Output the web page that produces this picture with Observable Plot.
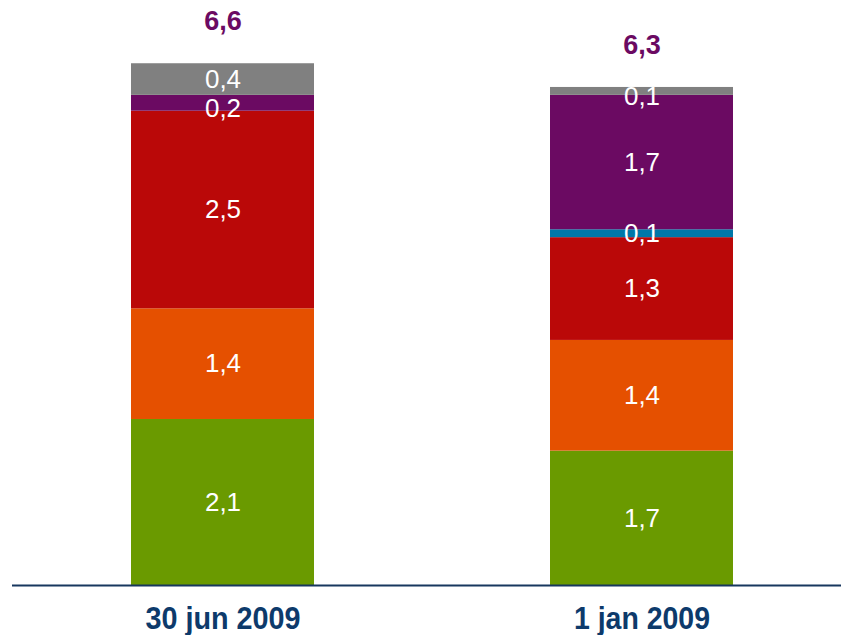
<!DOCTYPE html>
<html>
<head>
<meta charset="utf-8">
<script src="https://cdn.jsdelivr.net/npm/d3@7"></script>
<script src="https://cdn.jsdelivr.net/npm/@observablehq/plot@0.6"></script>
<style>
  html, body { margin: 0; padding: 0; background: #fff; }
  #chart svg { display: block; }
</style>
</head>
<body>
<div id="chart"></div>
<script>
// Categories (bars) and series (stack segments, bottom to top)
const dates = ["30 jun 2009", "1 jan 2009"];
const seriesNames = ["Groen", "Oranje", "Rood", "Blauw", "Paars", "Grijs"];
const seriesColors = ["#6A9A00", "#E55000", "#BA0808", "#0077A8", "#6B0A62", "#808080"];

// Values per series, one entry per date
const groen  = [2.1, 1.7];
const oranje = [1.4, 1.4];
const rood   = [2.5, 1.3];
const blauw  = [0.0, 0.1];
const paars  = [0.2, 1.7];
const grijs  = [0.4, 0.1];
const totals = [6.6, 6.3];

const seriesValues = [groen, oranje, rood, blauw, paars, grijs];
const data = [];
seriesNames.forEach((s, i) => {
  dates.forEach((d, j) => {
    data.push({date: d, series: s, value: seriesValues[i][j]});
  });
});
const totalData = dates.map((d, j) => ({date: d, total: totals[j]}));
const fmt = v => v.toFixed(1).replace(".", ",");

const stackOpts = {x: "date", y: "value", z: "series", order: seriesNames};
// thin top segments have their labels sitting slightly low, as in the source
const isThinTop = d => d.value > 0 && d.value < 0.3 && d.series !== "Blauw";

const chart = Plot.plot({
  width: 841,
  height: 635,
  marginTop: 0,
  marginBottom: 50,
  marginLeft: 12,
  marginRight: 0,
  style: {fontFamily: "'Liberation Sans', Arial, sans-serif", background: "#fff"},
  x: {domain: dates, paddingInner: 0.564, paddingOuter: 0.269, align: 0.5246, axis: null},
  y: {domain: [0, 7.4], axis: null},
  color: {domain: seriesNames, range: seriesColors},
  marks: [
    Plot.barY(data, Plot.stackY({...stackOpts, fill: "series"})),
    Plot.text(data, Plot.stackY({
      ...stackOpts,
      text: d => (d.value > 0 && !isThinTop(d)) ? fmt(d.value) : "",
      fill: "#ffffff",
      fontSize: 26
    })),
    Plot.text(data, Plot.stackY({
      ...stackOpts,
      text: d => isThinTop(d) ? fmt(d.value) : "",
      fill: "#ffffff",
      fontSize: 26,
      dy: 5
    })),
    Plot.text(totalData, {
      x: "date", y: "total", text: d => fmt(d.total),
      dy: -42, fill: "#6B0A62", fontSize: 27, fontWeight: "bold"
    }),
    Plot.ruleY([0], {stroke: "#17375E", strokeWidth: 2}),
    Plot.text(dates, {
      x: d => d, frameAnchor: "bottom", lineAnchor: "middle", dy: 34, text: d => d,
      fill: "#0D3A6B", fontSize: 31, fontWeight: "bold"
    })
  ]
});
// condense the category labels to the narrow look of the source
d3.select(chart).selectAll("text").each(function() {
  const t = this.textContent;
  const i = dates.indexOf(t);
  if (i >= 0) {
    this.setAttribute("textLength", i === 0 ? 155 : 136);
    this.setAttribute("lengthAdjust", "spacingAndGlyphs");
  }
});
document.getElementById("chart").appendChild(chart);
</script>
</body>
</html>
